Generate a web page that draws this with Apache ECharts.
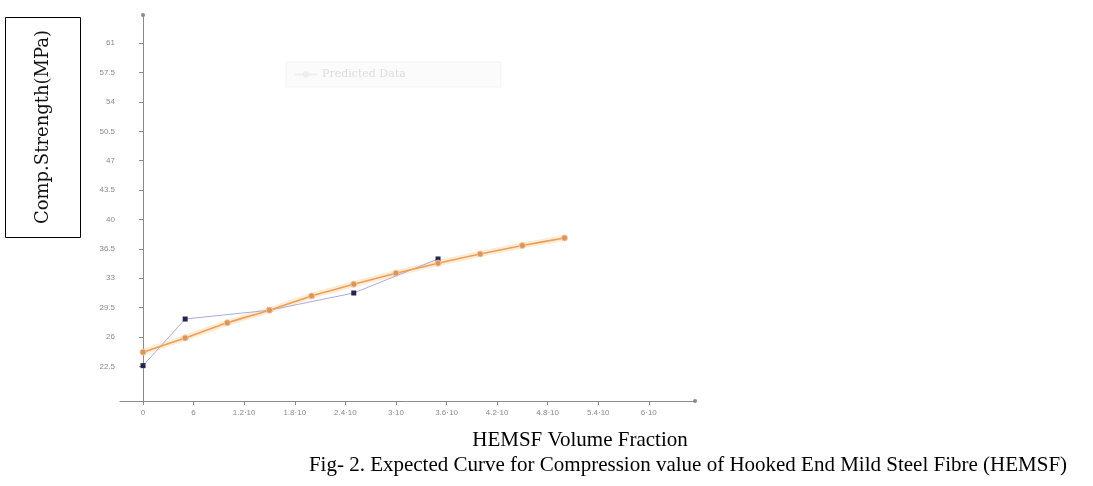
<!DOCTYPE html>
<html>
<head>
<meta charset="utf-8">
<script src="https://cdn.jsdelivr.net/npm/echarts@6/dist/echarts.min.js"></script>
<style>
html,body{margin:0;padding:0;background:#fff;}
#chart{width:1093px;height:486px;}
</style>
</head>
<body>
<div id="chart"></div>
<script>
// Data
const volumeFraction = [0, 0.5, 1, 1.5, 2, 2.5, 3, 3.5, 4, 4.5, 5];
const expectedStrength = [24.2, 25.9, 27.7, 29.2, 30.9, 32.3, 33.6, 34.8, 35.9, 36.9, 37.8];
const experimentalFraction = [0, 0.5, 1.5, 2.5, 3.5];
const experimentalStrength = [22.6, 28.15, 29.2, 31.25, 35.3];
const xTickValues = [0, 0.6, 1.2, 1.8, 2.4, 3.0, 3.6, 4.2, 4.8, 5.4, 6.0];
const xTickLabels = ['0', '6', '1.2·10', '1.8·10', '2.4·10', '3·10', '3.6·10', '4.2·10', '4.8·10', '5.4·10', '6·10'];
const yTickValues = [22.5, 26, 29.5, 33, 36.5, 40, 43.5, 47, 50.5, 54, 57.5, 61];

const chart = echarts.init(document.getElementById('chart'));
const pair = (xs, ys) => xs.map((x, i) => [x, ys[i]]);

chart.setOption({
  animation: false,
  backgroundColor: '#fff',
  grid: { left: 120, right: 398, top: 15, bottom: 85, containLabel: false },
  legend: {
    left: 286, top: 62,
    data: ['Predicted Data'],
    backgroundColor: '#fbfbfb',
    borderColor: '#f3f3f3', borderWidth: 1,
    padding: [7, 95, 7, 8],
    itemWidth: 22, itemHeight: 8,
    textStyle: { color: '#dcdcdc', fontSize: 11, fontFamily: 'DejaVu Serif' },
    itemStyle: { color: '#ececf4', borderWidth: 0 },
    lineStyle: { color: '#eeeeee' }
  },
  xAxis: {
    type: 'value', min: -0.273, max: 6.548,
    axisLine: { onZero: false, lineStyle: { color: '#8a8a8a', width: 1 },
      symbol: ['none', 'circle'], symbolSize: [4, 4] },
    axisTick: { show: true, length: 4, customValues: xTickValues, lineStyle: { color: '#8a8a8a' } },
    axisLabel: { customValues: xTickValues, color: '#8a8a8a', fontSize: 8, margin: 8,
      formatter: v => { const i = xTickValues.findIndex(t => Math.abs(t - v) < 1e-6); return i >= 0 ? xTickLabels[i] : ''; } },
    splitLine: { show: false }
  },
  yAxis: {
    type: 'value', min: 18.39, max: 64.35,
    axisLine: { onZero: true, lineStyle: { color: '#8a8a8a', width: 1 },
      symbol: ['none', 'circle'], symbolSize: [4, 4] },
    axisTick: { show: true, length: 4, customValues: yTickValues, lineStyle: { color: '#8a8a8a' } },
    axisLabel: { customValues: yTickValues, color: '#8a8a8a', fontSize: 8, margin: 5,
      formatter: v => String(v) },
    splitLine: { show: false }
  },
  series: [
    {
      name: 'halo', type: 'line', data: pair(volumeFraction, expectedStrength),
      showSymbol: false, silent: true, smooth: 0.2,
      lineStyle: { color: 'rgba(250,205,150,0.4)', width: 6 }, z: 1
    },
    {
      name: 'Experimental Data', type: 'line', data: pair(experimentalFraction, experimentalStrength),
      symbol: 'rect', symbolSize: 5,
      itemStyle: { color: '#24244e' },
      lineStyle: { color: '#a9addf', width: 1 }, z: 2
    },
    {
      name: 'Predicted Data', type: 'line', data: pair(volumeFraction, expectedStrength),
      symbol: 'circle', symbolSize: 6, smooth: 0.2,
      itemStyle: { color: '#d99560', borderColor: '#f3c79a', borderWidth: 1 },
      lineStyle: { color: '#ef9f55', width: 1.6 }, z: 3
    }
  ],
  graphic: [
    { type: 'rect', left: 5, top: 17, shape: { width: 75, height: 220 },
      style: { fill: '#fff', stroke: '#000', lineWidth: 1 } },
    { type: 'text', x: 43, y: 127, rotation: Math.PI / 2,
      style: { text: 'Comp.Strength(MPa)', font: '18px "DejaVu Serif"', fill: '#111',
        textAlign: 'center', textVerticalAlign: 'middle' } },
    { type: 'text', x: 580, y: 440,
      style: { text: 'HEMSF Volume Fraction', font: '21px "Liberation Serif"', fill: '#000',
        textAlign: 'center', textVerticalAlign: 'middle' } },
    { type: 'text', x: 688, y: 465,
      style: { text: 'Fig- 2. Expected Curve for Compression value of Hooked End Mild Steel Fibre (HEMSF)',
        font: '21px "Liberation Serif"', fill: '#000', textAlign: 'center', textVerticalAlign: 'middle' } }
  ]
});
</script>
</body>
</html>
